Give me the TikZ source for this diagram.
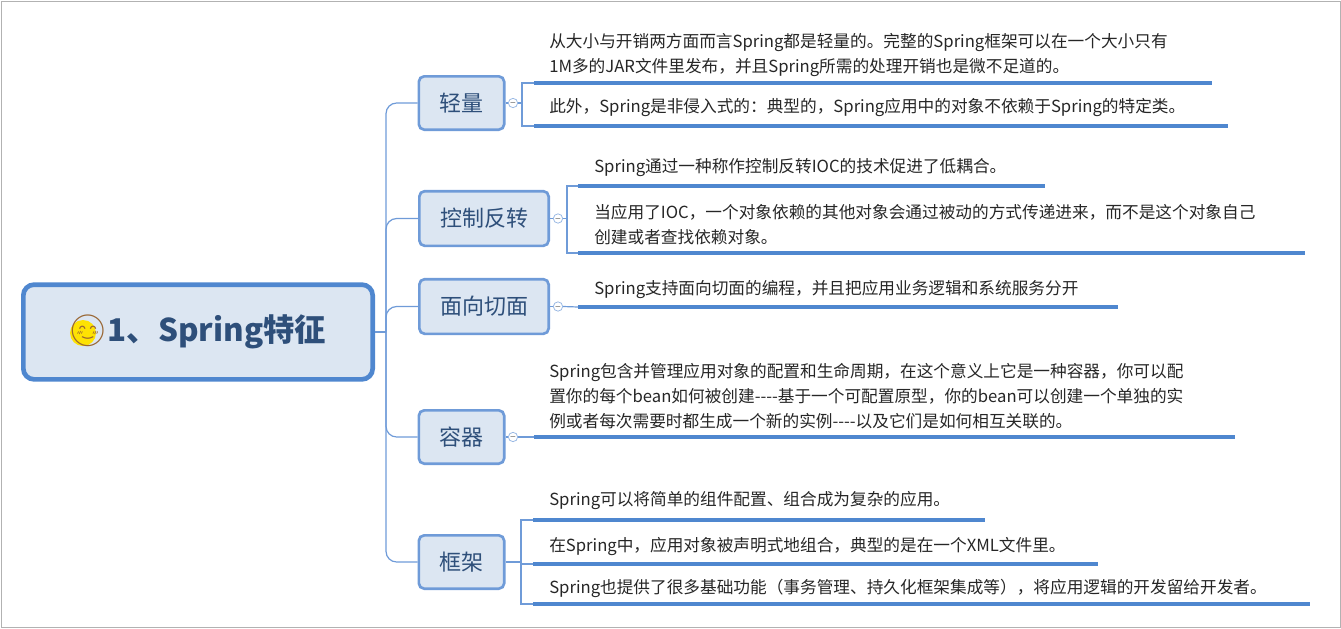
\documentclass[tikz,border=0pt]{standalone}
\usepackage{fontspec}
\setmainfont{Noto Sans CJK SC}
\newfontfamily\emo{Noto Emoji}
\begin{document}
\begin{tikzpicture}[x=0.75pt,y=-0.75pt,
  line/.style={draw=lb,line width=0.9pt},
  ul/.style={draw=ub,line width=2.6pt},
  br/.style={draw=lb,fill=bf,line width=2pt,rounded corners=4pt,font=\fontsize{16.5}{18}\selectfont,text=tc,inner sep=0pt},
  leaf/.style={anchor=west,inner sep=0pt,font=\fontsize{12.5}{18.75}\selectfont,align=left,text=black!85},
  coll/.style={draw=lb!70,circle,minimum size=7pt,inner sep=0pt,fill=white,line width=0.6pt}]
\definecolor{lb}{HTML}{6F9BD8}
\definecolor{ub}{HTML}{4F87CF}
\definecolor{bf}{HTML}{DCE6F2}
\definecolor{tc}{HTML}{2E4F7A}
\useasboundingbox (0,0) rectangle (1341,628);
\draw[gray!60] (1,1) rectangle (1340,627);
% root
\node[draw=ub,fill=bf,line width=3.5pt,rounded corners=8pt,minimum width=262pt,minimum height=71pt,inner sep=0pt] (root) at (198,332) {};
\fill[yellow!85!orange] (83,333) circle (13);
\node[font=\bfseries\fontsize{23.5}{24}\selectfont,text=tc] (rt) at (197,332) {{\emo\color{brown!80!black}😊}1、Spring特征};
% branches
\node[br,minimum width=64pt,minimum height=40pt] (b1) at (461.5,103) {轻量};
\node[br,minimum width=97pt,minimum height=41pt] (b2) at (484,218.5) {控制反转};
\node[br,minimum width=97pt,minimum height=41pt] (b3) at (484,306.5) {面向切面};
\node[br,minimum width=64pt,minimum height=40pt] (b4) at (461.5,437) {容器};
\node[br,minimum width=64pt,minimum height=40pt] (b5) at (461.5,562) {框架};
\coordinate (j) at (386,332);
\draw[line] (root.east) -- (j);
\foreach \b in {b1,b2,b3,b4,b5}{\draw[line,rounded corners=8pt] (j) |- (\b.west);}
% collapse circles
\node[coll] (c1) at (513,103) {\tiny$-$};
\node[coll] (c2) at (558,218.5) {\tiny$-$};
\node[coll] (c3) at (558,306.5) {\tiny$-$};
\node[coll] (c4) at (513,437) {\tiny$-$};
\coordinate (c5) at (513,562);
\draw[line] (b1.east)--(c1); \draw[line] (b2.east)--(c2); \draw[line] (b3.east)--(c3); \draw[line] (b4.east)--(c4); \draw[line] (b5.east)--(c5);
% b1 leaves
\draw[line] (c1.east)--(522,103); \draw[line] (534,83)-|(522,126)--(534,126);
\draw[ul] (534,83)--(1212,83); \draw[ul] (534,126)--(1228,126);
\node[leaf] (l11) at (549,55) {从大小与开销两方面而言Spring都是轻量的。完整的Spring框架可以在一个大小只有\\1M多的JAR文件里发布，并且Spring所需的处理开销也是微不足道的。};
\node[leaf] (l12) at (549,108) {此外，Spring是非侵入式的：典型的，Spring应用中的对象不依赖于Spring的特定类。};
% b2 leaves
\draw[line] (c2.east)--(567,218.5); \draw[line] (578,186)-|(567,253)--(578,253);
\draw[ul] (578,186)--(1045,186); \draw[ul] (578,253)--(1305,253);
\node[leaf] (l21) at (594,168) {Spring通过一种称作控制反转IOC的技术促进了低耦合。};
\node[leaf] (l22) at (594,224.5) {当应用了IOC，一个对象依赖的其他对象会通过被动的方式传递进来，而不是这个对象自己\\创建或者查找依赖对象。};
% b3
\draw[ul] (578,307)--(1118,307); \draw[line] (c3.east)--(578,307);
\node[leaf] (l31) at (594,290) {Spring支持面向切面的编程，并且把应用业务逻辑和系统服务分开};
% b4
\draw[ul] (534,437)--(1235,437); \draw[line] (c4.east)--(534,437);
\node[leaf] (l41) at (549,396) {Spring包含并管理应用对象的配置和生命周期，在这个意义上它是一种容器，你可以配\\置你的每个bean如何被创建{-}{-}{-}{-}基于一个可配置原型，你的bean可以创建一个单独的实\\例或者每次需要时都生成一个新的实例{-}{-}{-}{-}以及它们是如何相互关联的。};
% b5
\draw[line] (c5)--(521,562); \draw[line] (533,520)-|(521,604)--(533,604);
\draw[ul] (533,520)--(985,520); \draw[ul] (533,564)--(1098,564); \draw[ul] (533,604)--(1310,604);
\draw[line] (521,564)--(533,564);
\node[leaf] (l51) at (549,501) {Spring可以将简单的组件配置、组合成为复杂的应用。};
\node[leaf] (l52) at (549,547) {在Spring中，应用对象被声明式地组合，典型的是在一个XML文件里。};
\node[leaf] (l53) at (549,588) {Spring也提供了很多基础功能（事务管理、持久化框架集成等），将应用逻辑的开发留给开发者。};
\end{tikzpicture}
\end{document}
